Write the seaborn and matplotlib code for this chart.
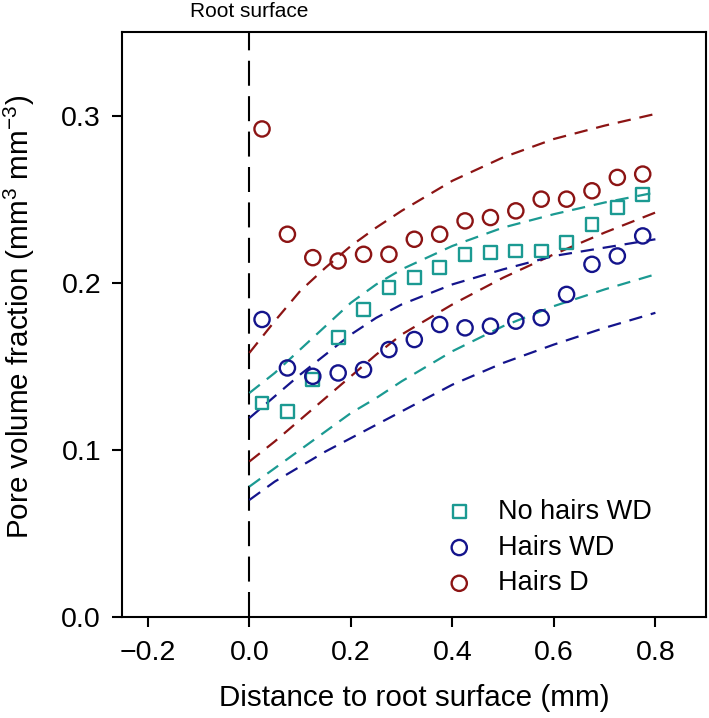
import matplotlib
matplotlib.use("Agg")
import matplotlib.pyplot as plt
import seaborn as sns

sns.set_style("ticks")
plt.rcParams['font.family'] = ['Liberation Sans', 'DejaVu Sans']
plt.rcParams['mathtext.fontset'] = 'custom'
plt.rcParams['mathtext.rm'] = 'Liberation Sans'
plt.rcParams['mathtext.default'] = 'regular'
plt.rcParams['text.color'] = 'black'
plt.rcParams['axes.labelcolor'] = 'black'
plt.rcParams['xtick.color'] = 'black'
plt.rcParams['ytick.color'] = 'black'

# measured points (distance from root surface, mm)
dist = [0.025, 0.075, 0.125, 0.175, 0.225, 0.275, 0.325, 0.375,
        0.425, 0.475, 0.525, 0.575, 0.625, 0.675, 0.725, 0.775]
no_hairs_wd = [0.128, 0.123, 0.142, 0.167, 0.184, 0.197, 0.203, 0.209,
               0.217, 0.218, 0.219, 0.219, 0.224, 0.235, 0.245, 0.253]
hairs_wd = [0.178, 0.149, 0.144, 0.146, 0.148, 0.160, 0.166, 0.175,
            0.173, 0.174, 0.177, 0.179, 0.193, 0.211, 0.216, 0.228]
hairs_d = [0.292, 0.229, 0.215, 0.213, 0.217, 0.217, 0.226, 0.229,
           0.237, 0.239, 0.243, 0.250, 0.250, 0.255, 0.263, 0.265]

# dashed model bands
curve_x = [0.0, 0.05, 0.1, 0.15, 0.2, 0.25, 0.3, 0.4, 0.5, 0.6, 0.7, 0.8]
red_hi = [0.158, 0.177, 0.195, 0.209, 0.222, 0.233, 0.243, 0.261, 0.275, 0.286, 0.294, 0.301]
red_lo = [0.093, 0.105, 0.118, 0.131, 0.144, 0.157, 0.169, 0.187, 0.203, 0.217, 0.230, 0.242]
teal_hi = [0.134, 0.146, 0.160, 0.174, 0.188, 0.199, 0.208, 0.222, 0.233, 0.241, 0.248, 0.254]
teal_lo = [0.078, 0.089, 0.100, 0.111, 0.122, 0.131, 0.141, 0.159, 0.174, 0.186, 0.196, 0.205]
blue_hi = [0.119, 0.132, 0.145, 0.157, 0.169, 0.179, 0.187, 0.199, 0.208, 0.216, 0.221, 0.226]
blue_lo = [0.070, 0.081, 0.090, 0.099, 0.107, 0.115, 0.123, 0.139, 0.152, 0.163, 0.173, 0.182]

teal = '#1b9a92'
blue = '#14148c'
red = '#8c1414'

fig = plt.figure(figsize=(7.09, 7.18), dpi=100)
ax = fig.add_axes([0.172, 0.1407, 0.824, 0.8147])

# root surface line
ax.axvline(0, color='black', lw=1.5, linestyle=(0, (12, 5)), zorder=1)

for vals, col in [(red_hi, red), (red_lo, red), (teal_hi, teal),
                  (teal_lo, teal), (blue_hi, blue), (blue_lo, blue)]:
    sns.lineplot(x=curve_x, y=vals, ax=ax, color=col, lw=1.6,
                 linestyle=(0, (6, 4)), zorder=2)

sns.scatterplot(x=dist, y=no_hairs_wd, ax=ax, marker='s', s=85,
                facecolors='none', edgecolor=teal, linewidth=1.7,
                label='No hairs WD', zorder=3)
sns.scatterplot(x=dist, y=hairs_wd, ax=ax, marker='o', s=120,
                facecolors='none', edgecolor=blue, linewidth=1.7,
                label='Hairs WD', zorder=3)
sns.scatterplot(x=dist, y=hairs_d, ax=ax, marker='o', s=120,
                facecolors='none', edgecolor=red, linewidth=1.7,
                label='Hairs D', zorder=3)

ax.set_xlim(-0.251, 0.9)
ax.set_ylim(0, 0.35)
ax.set_xticks([-0.2, 0.0, 0.2, 0.4, 0.6, 0.8])
ax.set_xticklabels(['\u22120.2', '0.0', '0.2', '0.4', '0.6', '0.8'])
ax.set_yticks([0.0, 0.1, 0.2, 0.3])
ax.set_yticklabels(['0.0', '0.1', '0.2', '0.3'])
ax.tick_params(labelsize=20.5, length=7.5, width=1.5)
ax.tick_params(axis='x', pad=9)
ax.tick_params(axis='y', pad=7.5)

for sp in ax.spines.values():
    sp.set_visible(True)
    sp.set_linewidth(1.5)
    sp.set_color('black')

ax.set_xlabel('Distance to root surface (mm)', fontsize=21.3)
ax.set_ylabel('Pore volume fraction (mm$^3$ mm$^{\u22123}$)', fontsize=21.3)
ax.xaxis.set_label_coords(0.5, -0.115)
ax.yaxis.set_label_coords(-0.146, 0.513)

ax.text(0, 1.025, 'Root surface', transform=ax.get_xaxis_transform(),
        ha='center', va='baseline', fontsize=15)

ax.legend(loc='upper left', bbox_to_anchor=(0.531, 0.225), frameon=False,
          fontsize=19.5, handletextpad=0.94, labelspacing=0.36, borderpad=0,
          handlelength=1.0)

fig.savefig('out.png', dpi=100)
